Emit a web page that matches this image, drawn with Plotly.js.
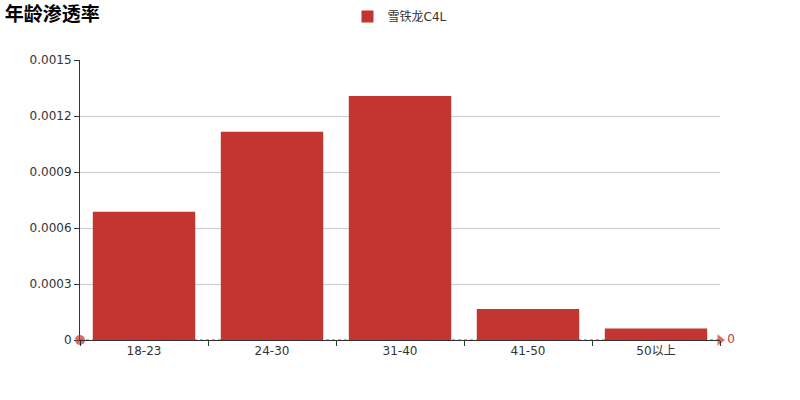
<!DOCTYPE html>
<html>
<head>
<meta charset="utf-8">
<script src="https://cdn.plot.ly/plotly-3.0.1.min.js"></script>
<style>
  html, body { margin: 0; padding: 0; background: #fff; }
  #chart { width: 800px; height: 400px; }
</style>
</head>
<body>
<div id="chart"></div>
<script>
// age groups and penetration rate
var ageGroups = ["18-23", "24-30", "31-40", "41-50", "50以上"];
var rateC4L = [0.000687, 0.001116, 0.001307, 0.000166, 0.000061];
var seriesName = "雪铁龙C4L";

var yTickVals = [0, 0.0003, 0.0006, 0.0009, 0.0012, 0.0015];
var yTickText = ["0", "0.0003", "0.0006", "0.0009", "0.0012", "0.0015"];

// mark line value (min line of the series)
var markLineValue = 0;

var red = "#c23531";
var textColor = "#333";
var fontFamily = "DejaVu Sans, Noto Sans CJK SC, sans-serif";

// bars sit on the category axis (x2, overlay); the mark line uses the
// hidden 0..1 main axis so its end symbols are not clipped
var barTrace = {
  x: ageGroups,
  y: rateC4L,
  xaxis: "x2",
  name: seriesName,
  type: "bar",
  marker: { color: red },
  hoverinfo: "none"
};

var markTrace = {
  x: [0, 1],
  y: [markLineValue, markLineValue],
  type: "scatter",
  mode: "lines+markers+text",
  line: { color: red, width: 1, dash: "3px,3px" },
  marker: {
    symbol: ["circle", "triangle-right"],
    size: [10, 10],
    color: red,
    line: { width: 0 }
  },
  text: ["", String(markLineValue)],
  textposition: "middle right",
  textfont: { color: red, size: 12, family: fontFamily },
  showlegend: false,
  hoverinfo: "none",
  cliponaxis: false
};

var layout = {
  width: 800,
  height: 400,
  margin: { l: 80, r: 80, t: 60, b: 60 },
  paper_bgcolor: "#fff",
  plot_bgcolor: "#fff",
  font: { family: fontFamily, size: 12, color: textColor },
  title: {
    text: "年龄渗透率",
    x: 0.006,
    xref: "container",
    xanchor: "left",
    y: 1 - 14 / 400,
    yref: "container",
    yanchor: "middle",
    font: { size: 19, color: "#000", weight: "bold", family: "Noto Sans CJK SC, sans-serif" }
  },
  showlegend: true,
  legend: {
    orientation: "h",
    x: 0.5,
    xanchor: "center",
    y: 1 - 2 / 400,
    yref: "container",
    yanchor: "top",
    font: { size: 12, color: textColor }
  },
  bargap: 0.2,
  xaxis: {
    range: [0, 1],
    visible: false
  },
  xaxis2: {
    overlaying: "x",
    anchor: "y",
    side: "bottom",
    type: "category",
    range: [-0.5, 4.5],
    showline: true,
    linecolor: textColor,
    linewidth: 1,
    ticks: "outside",
    tickson: "boundaries",
    ticklen: 5,
    tickcolor: textColor,
    showgrid: false,
    zeroline: false,
    tickfont: { size: 12, color: textColor }
  },
  yaxis: {
    range: [0, 0.0015],
    tickvals: yTickVals,
    ticktext: yTickText,
    showline: true,
    linecolor: textColor,
    linewidth: 1,
    ticks: "outside",
    ticklen: 5,
    tickcolor: textColor,
    showgrid: true,
    gridcolor: "#ccc",
    gridwidth: 1,
    zeroline: false,
    layer: "below traces",
    tickfont: { size: 12, color: textColor }
  }
};

Plotly.newPlot("chart", [barTrace, markTrace], layout, { displayModeBar: false, staticPlot: true });
</script>
</body>
</html>
